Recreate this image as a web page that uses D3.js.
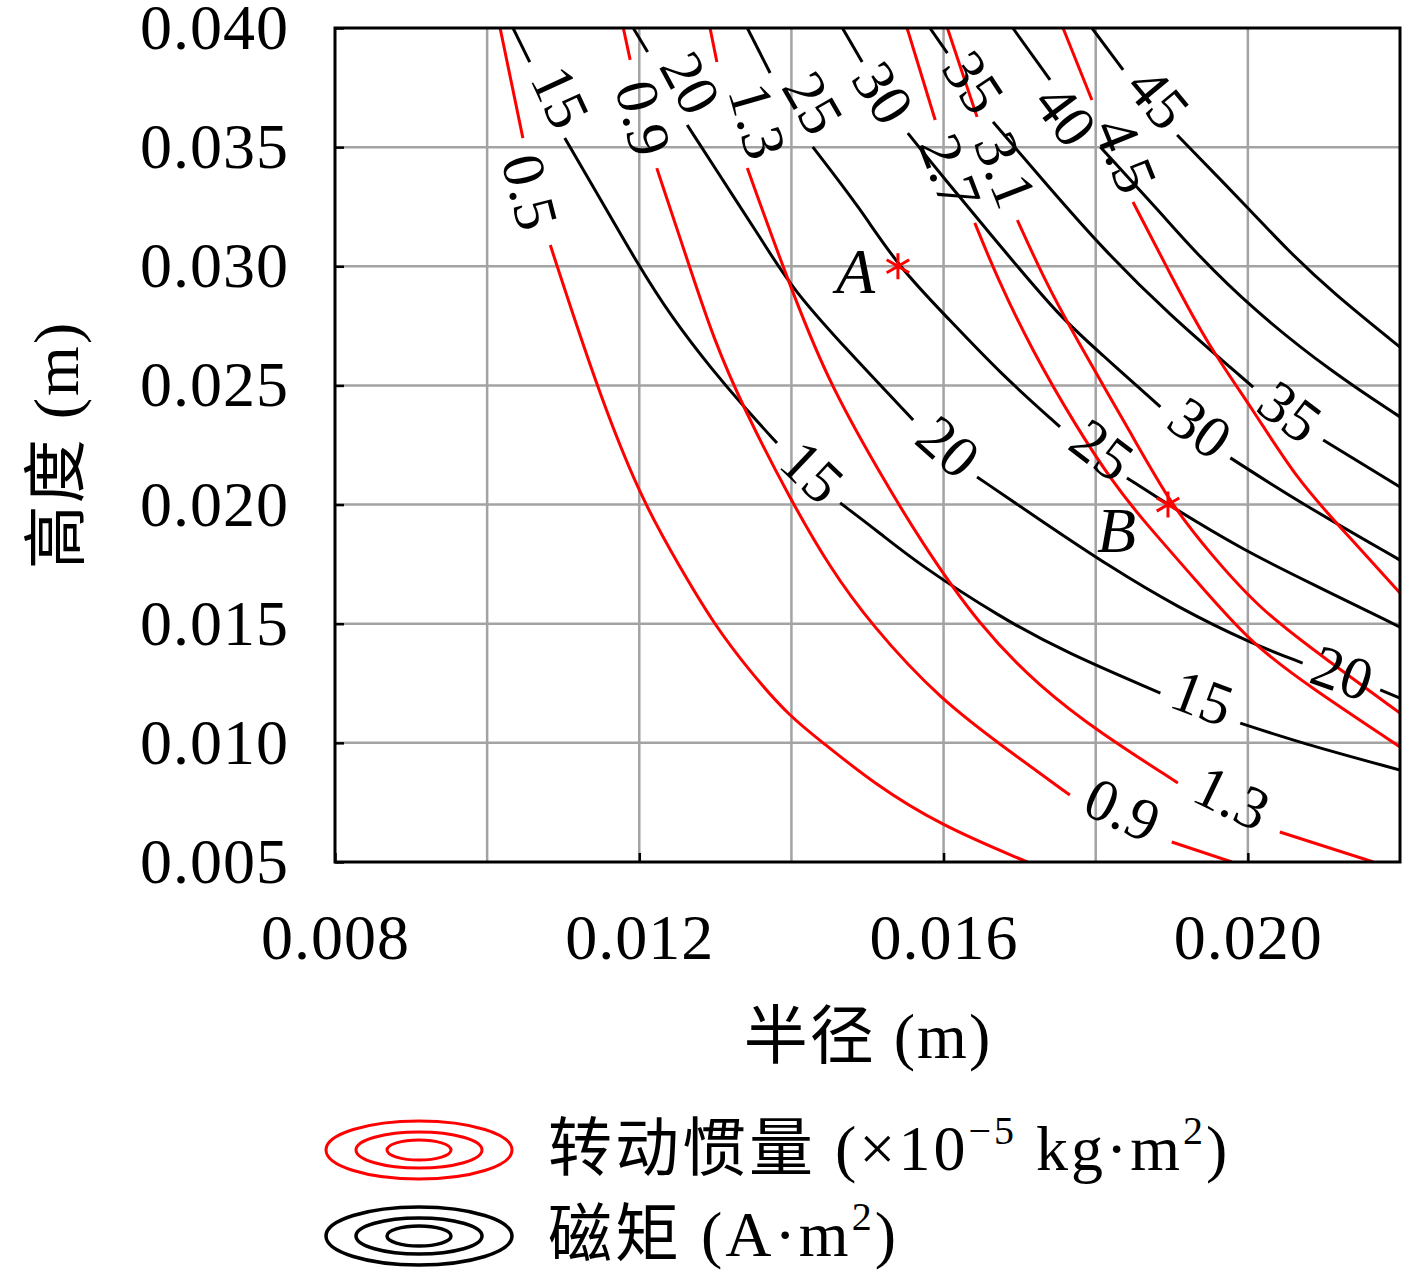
<!DOCTYPE html>
<html lang="zh">
<head>
    <meta charset="utf-8">
    <title>半径-高度 等值线</title>
    <script type="text/javascript" src="https://cdn.jsdelivr.net/npm/d3@7"></script>
    <style>
        body { margin: 0; background: #ffffff; }
        svg text { font-family: "Liberation Serif", "Noto Sans CJK SC", serif; }
    </style>
</head>
<body>
<div id="chart"></div>
<script type="text/javascript">
    var w = 1417;
    var h = 1276;
    var plotLeft = 335, plotTop = 28, plotRight = 1400, plotBottom = 862;

    var xTickValues = [0.008, 0.012, 0.016, 0.020];
    var xGridValues = [0.010, 0.012, 0.014, 0.016, 0.018, 0.020];
    var yTickValues = [0.005, 0.010, 0.015, 0.020, 0.025, 0.030, 0.035, 0.040];

    // moment of inertia contours (x1e-5 kg m^2), points are [radius, height],
    // each contour is cut into pieces where its label sits
    var inertia05 = [
        [[0.01017, 0.04000], [0.01047, 0.03538]],
        [[0.01083, 0.03089], [0.01144, 0.02493], [0.01201, 0.02032], [0.01254, 0.01734], [0.01297, 0.01503],
         [0.01346, 0.01297], [0.01398, 0.01109], [0.01442, 0.01000], [0.01507, 0.00832], [0.01595, 0.00655], [0.01710, 0.00500]]
    ];
    var inertia09 = [
        [[0.01179, 0.04000], [0.01188, 0.03866]],
        [[0.01223, 0.03412], [0.01271, 0.02951], [0.01297, 0.02703], [0.01336, 0.02410], [0.01401, 0.02007], [0.01451, 0.01734],
         [0.01503, 0.01503], [0.01595, 0.01180], [0.01697, 0.00941], [0.01766, 0.00781]],
        [[0.01900, 0.00584], [0.01979, 0.00500]]
    ];
    var inertia13 = [
        [[0.01293, 0.04000], [0.01302, 0.03857]],
        [[0.01342, 0.03412], [0.01394, 0.02951], [0.01447, 0.02523], [0.01516, 0.02133], [0.01569, 0.01851], [0.01648, 0.01486],
         [0.01727, 0.01234], [0.01806, 0.01041], [0.01908, 0.00832]],
        [[0.02042, 0.00626], [0.02165, 0.00500]]
    ];
    var inertia27 = [
        [[0.01552, 0.04000], [0.01589, 0.03614]],
        [[0.01641, 0.03182], [0.01670, 0.02955], [0.01716, 0.02649], [0.01773, 0.02334], [0.01823, 0.02091], [0.01862, 0.01935],
         [0.01928, 0.01696], [0.02003, 0.01419], [0.02082, 0.01234], [0.02200, 0.00983]]
    ];
    var inertia31 = [
        [[0.01605, 0.04000], [0.01644, 0.03627]],
        [[0.01697, 0.03194], [0.01731, 0.02955], [0.01770, 0.02720], [0.01849, 0.02284], [0.01899, 0.02000], [0.01950, 0.01797],
         [0.02016, 0.01558], [0.02104, 0.01348], [0.02200, 0.01125]]
    ];
    var inertia45 = [
        [[0.01757, 0.04000], [0.01795, 0.03698]],
        [[0.01849, 0.03270], [0.01900, 0.02955], [0.01946, 0.02678], [0.02007, 0.02397], [0.02065, 0.02103], [0.02125, 0.01893],
         [0.02200, 0.01629]]
    ];

    // magnetic moment contours (A m^2)
    var moment15 = [
        [[0.01034, 0.04000], [0.01056, 0.03857]],
        [[0.01102, 0.03538], [0.01148, 0.03287], [0.01197, 0.03014], [0.01243, 0.02783], [0.01296, 0.02565], [0.01339, 0.02405],
         [0.01381, 0.02258]],
        [[0.01464, 0.02007], [0.01516, 0.01881], [0.01569, 0.01746], [0.01674, 0.01528], [0.01762, 0.01377], [0.01885, 0.01209]],
        [[0.01990, 0.01083], [0.02069, 0.01000], [0.02200, 0.00886]]
    ];
    var moment20 = [
        [[0.01192, 0.04000], [0.01211, 0.03899]],
        [[0.01263, 0.03593], [0.01326, 0.03282], [0.01361, 0.03110], [0.01402, 0.02901], [0.01473, 0.02649], [0.01560, 0.02355]],
        [[0.01644, 0.02116], [0.01727, 0.01935], [0.01819, 0.01738], [0.01907, 0.01570], [0.02003, 0.01419], [0.02072, 0.01335]],
        [[0.02174, 0.01222], [0.02200, 0.01188]]
    ];
    var moment25 = [
        [[0.01342, 0.04000], [0.01372, 0.03811]],
        [[0.01428, 0.03501], [0.01490, 0.03245], [0.01540, 0.03000], [0.01608, 0.02775], [0.01674, 0.02552], [0.01753, 0.02326]],
        [[0.01841, 0.02112], [0.01895, 0.02000], [0.01994, 0.01809], [0.02082, 0.01671], [0.02200, 0.01486]]
    ];
    var moment30 = [
        [[0.01467, 0.04000], [0.01493, 0.03857]],
        [[0.01553, 0.03559], [0.01599, 0.03375], [0.01679, 0.03068], [0.01753, 0.02787], [0.01806, 0.02636], [0.01885, 0.02410]],
        [[0.01977, 0.02196], [0.02069, 0.02007], [0.02200, 0.01767]]
    ];
    var moment35 = [
        [[0.01582, 0.04000], [0.01605, 0.03895]],
        [[0.01665, 0.03606], [0.01737, 0.03337], [0.01811, 0.03068], [0.01894, 0.02804], [0.02007, 0.02493]],
        [[0.02099, 0.02271], [0.02200, 0.02074]]
    ];
    var moment40 = [
        [[0.01691, 0.04000], [0.01740, 0.03782]],
        [[0.01806, 0.03501], [0.01888, 0.03215], [0.01928, 0.03068], [0.02007, 0.02817], [0.02112, 0.02552], [0.02200, 0.02368]]
    ];
    var moment45 = [
        [[0.01795, 0.04000], [0.01836, 0.03824]],
        [[0.01907, 0.03551], [0.02003, 0.03236], [0.02052, 0.03068], [0.02112, 0.02888], [0.02200, 0.02661]]
    ];

    var inertiaLevels = ["0.5", "0.9", "1.3", "2.7", "3.1", "4.5"];
    var momentLevels = ["15", "20", "25", "30", "35", "40", "45"];

    // contour labels: [level, index of the gap, radius, height]
    var inertiaLabels = [
        ["0.5", 0, 0.01056, 0.03312],
        ["0.9", 0, 0.01205, 0.03622],
        ["1.3", 0, 0.01355, 0.03610],
        ["2.7", 0, 0.01608, 0.03396],
        ["3.1", 0, 0.01681, 0.03404],
        ["4.5", 0, 0.01839, 0.03467],
        ["0.9", 1, 0.01835, 0.00718],
        ["1.3", 1, 0.01979, 0.00769]
    ];
    var momentLabels = [
        ["15", 0, 0.01096, 0.03710],
        ["20", 0, 0.01267, 0.03769],
        ["25", 0, 0.01428, 0.03685],
        ["30", 0, 0.01520, 0.03727],
        ["35", 0, 0.01639, 0.03773],
        ["40", 0, 0.01760, 0.03635],
        ["45", 0, 0.01882, 0.03706],
        ["15", 1, 0.01427, 0.02137],
        ["20", 1, 0.01606, 0.02242],
        ["25", 1, 0.01808, 0.02229],
        ["30", 1, 0.01937, 0.02321],
        ["35", 1, 0.02055, 0.02389],
        ["15", 2, 0.01940, 0.01188],
        ["20", 2, 0.02124, 0.01293]
    ];

    // design points A and B, and where their letters sit
    var markNames = ["A", "B"];
    var markPoints = [[0.01540, 0.03000], [0.01895, 0.02000]];
    var markTextPoints = [[0.01510, 0.02888], [0.01853, 0.01801]];

    var inertiaLines = [inertia05, inertia09, inertia13, inertia27, inertia31, inertia45];
    var momentLines = [moment15, moment20, moment25, moment30, moment35, moment40, moment45];

    var xScale = d3.scaleLinear().domain([0.008, 0.022]).range([plotLeft, plotRight]);
    var yScale = d3.scaleLinear().domain([0.005, 0.040]).range([plotBottom, plotTop]);

    var svg = d3.select("#chart")
        .append("svg")
        .attr("width", w)
        .attr("height", h);

    svg.append("defs").append("clipPath")
        .attr("id", "plotClip")
        .append("rect")
        .attr("x", plotLeft)
        .attr("y", plotTop)
        .attr("width", plotRight - plotLeft)
        .attr("height", plotBottom - plotTop);

    // grid
    svg.append("g").selectAll("line")
        .data(xGridValues)
        .enter()
        .append("line")
        .attr("x1", function (d) { return xScale(d); })
        .attr("x2", function (d) { return xScale(d); })
        .attr("y1", plotTop)
        .attr("y2", plotBottom)
        .attr("stroke", "#a3a3a3")
        .attr("stroke-width", 2.5);

    svg.append("g").selectAll("line")
        .data(yTickValues.slice(1, -1))
        .enter()
        .append("line")
        .attr("y1", function (d) { return yScale(d); })
        .attr("y2", function (d) { return yScale(d); })
        .attr("x1", plotLeft)
        .attr("x2", plotRight)
        .attr("stroke", "#a3a3a3")
        .attr("stroke-width", 2.5);

    var line = d3.line()
        .x(function (d) { return xScale(d[0]); })
        .y(function (d) { return yScale(d[1]); })
        .curve(d3.curveBasis);

    function drawContours(lines, colour) {
        var g = svg.append("g").attr("clip-path", "url(#plotClip)");
        lines.forEach(function (segs) {
            g.selectAll(null)
                .data(segs)
                .enter()
                .append("path")
                .attr("d", line)
                .attr("fill", "none")
                .attr("stroke", colour)
                .attr("stroke-width", 3);
        });
    }

    drawContours(momentLines, "#000000");
    drawContours(inertiaLines, "#ff0000");

    // the label follows the direction of the gap it sits in
    function labelAngle(segs, gap) {
        var a = segs[gap][segs[gap].length - 1];
        var b = segs[gap + 1][0];
        var ang = Math.atan2(yScale(b[1]) - yScale(a[1]), xScale(b[0]) - xScale(a[0])) * 180 / Math.PI;
        if (ang > 90) ang -= 180;
        if (ang < -90) ang += 180;
        return ang;
    }

    function drawLabels(labels, levels, lines) {
        svg.append("g").selectAll("text")
            .data(labels)
            .enter()
            .append("text")
            .attr("transform", function (d) {
                var segs = lines[levels.indexOf(d[0])];
                return "translate(" + xScale(d[2]) + "," + yScale(d[3]) + ")rotate(" + labelAngle(segs, d[1]) + ")";
            })
            .attr("text-anchor", "middle")
            .attr("dominant-baseline", "central")
            .style("font-size", "60px")
            .attr("fill", "#000")
            .text(function (d) { return d[0]; });
    }

    drawLabels(inertiaLabels, inertiaLevels, inertiaLines);
    drawLabels(momentLabels, momentLevels, momentLines);

    // points A, B
    svg.append("g").selectAll("path")
        .data(markPoints)
        .enter()
        .append("path")
        .attr("transform", function (d) { return "translate(" + xScale(d[0]) + "," + yScale(d[1]) + ")"; })
        .attr("d", d3.symbol().type(d3.symbolAsterisk).size(480))
        .attr("fill", "none")
        .attr("stroke", "#ff0000")
        .attr("stroke-width", 3);

    svg.append("g").selectAll("text")
        .data(markTextPoints)
        .enter()
        .append("text")
        .attr("x", function (d) { return xScale(d[0]); })
        .attr("y", function (d) { return yScale(d[1]); })
        .attr("text-anchor", "end")
        .style("font-size", "64px")
        .style("font-style", "italic")
        .text(function (d, i) { return markNames[i]; });

    // frame
    svg.append("rect")
        .attr("x", plotLeft)
        .attr("y", plotTop)
        .attr("width", plotRight - plotLeft)
        .attr("height", plotBottom - plotTop)
        .attr("fill", "none")
        .attr("stroke", "#000")
        .attr("stroke-width", 3);

    var xAxis = d3.axisBottom(xScale)
        .tickValues(xTickValues)
        .tickSizeInner(-9)
        .tickSizeOuter(0)
        .tickPadding(52)
        .tickFormat(d3.format(".3f"));

    var yAxis = d3.axisLeft(yScale)
        .tickValues(yTickValues)
        .tickSizeInner(-9)
        .tickSizeOuter(0)
        .tickPadding(46)
        .tickFormat(d3.format(".3f"));

    var gx = svg.append("g")
        .attr("transform", "translate(0," + plotBottom + ")")
        .call(xAxis);
    var gy = svg.append("g")
        .attr("transform", "translate(" + plotLeft + ",0)")
        .call(yAxis);

    [gx, gy].forEach(function (g) {
        g.select(".domain").remove();
        g.selectAll(".tick line").attr("stroke", "#000").attr("stroke-width", 2.5);
        g.selectAll(".tick text")
            .attr("fill", "#000")
            .style("font-family", "'Liberation Serif', serif")
            .style("font-size", "64px")
            .style("letter-spacing", "1px");
    });

    // axis titles
    svg.append("text")
        .attr("x", 868)
        .attr("y", 1058)
        .attr("text-anchor", "middle")
        .style("font-size", "64px")
        .style("letter-spacing", "2px")
        .text("半径 (m)");

    svg.append("text")
        .attr("transform", "translate(78,445)rotate(-90)")
        .attr("text-anchor", "middle")
        .style("font-size", "64px")
        .style("letter-spacing", "2px")
        .text("高度 (m)");

    // legend
    var legendRx = [93, 63, 32];
    var legendRy = [29, 18, 10];
    var legendRows = [
        {y: 1150, colour: "#ff0000", width: 3},
        {y: 1236, colour: "#000000", width: 3.5}
    ];

    legendRows.forEach(function (row) {
        svg.append("g").selectAll("ellipse")
            .data(legendRx)
            .enter()
            .append("ellipse")
            .attr("cx", 419)
            .attr("cy", row.y)
            .attr("rx", function (d) { return d; })
            .attr("ry", function (d, i) { return legendRy[i]; })
            .attr("fill", "none")
            .attr("stroke", row.colour)
            .attr("stroke-width", row.width);
    });

    var t1 = svg.append("text")
        .attr("x", 548)
        .attr("y", 1170)
        .style("font-size", "64px")
        .style("letter-spacing", "3px");
    t1.append("tspan").text("转动惯量 (×10");
    t1.append("tspan").attr("dy", -26).style("font-size", "40px").text("−5");
    t1.append("tspan").attr("dy", 26).text(" kg·m");
    t1.append("tspan").attr("dy", -26).style("font-size", "40px").text("2");
    t1.append("tspan").attr("dy", 26).text(")");

    var t2 = svg.append("text")
        .attr("x", 548)
        .attr("y", 1256)
        .style("font-size", "64px")
        .style("letter-spacing", "3px");
    t2.append("tspan").text("磁矩 (A·m");
    t2.append("tspan").attr("dy", -26).style("font-size", "40px").text("2");
    t2.append("tspan").attr("dy", 26).text(")");
</script>
</body>
</html>
